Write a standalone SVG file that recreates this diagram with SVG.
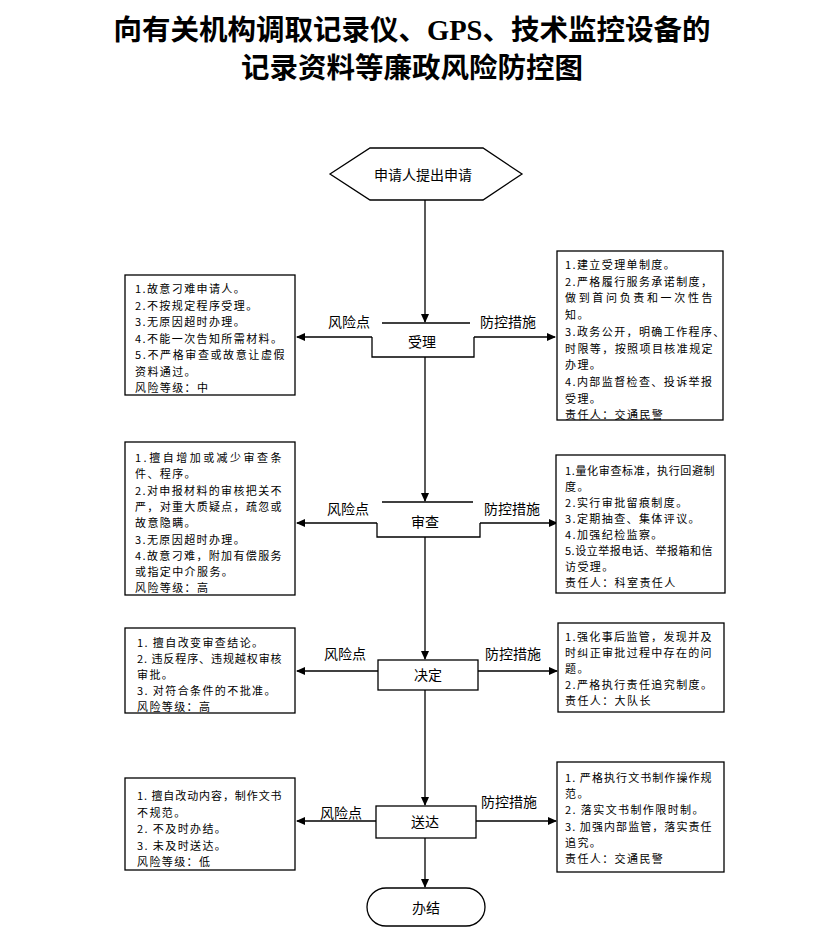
<svg xmlns="http://www.w3.org/2000/svg" width="823" height="941" viewBox="0 0 823 941">
<style>
.title{font-family:"Liberation Serif","Noto Sans CJK SC",serif;font-size:28.5px;font-weight:bold;fill:#000;text-anchor:middle}
.lbl{font-family:"Noto Sans CJK SC","Liberation Sans",sans-serif;font-size:14px;fill:#000;text-anchor:middle;dominant-baseline:central}
.bt{font-family:"Noto Sans CJK SC","Liberation Sans",sans-serif;font-size:11px;letter-spacing:1.4px;fill:#000;dominant-baseline:central}
.box{fill:#fff;stroke:#000;stroke-width:1.3}
.ln{fill:none;stroke:#000;stroke-width:1.3}
.arr{fill:none;stroke:#000;stroke-width:1.3;marker-end:url(#ah)}
</style>
<defs>
<marker id="ah" markerUnits="userSpaceOnUse" markerWidth="9" markerHeight="8" refX="8" refY="4" orient="auto">
<path d="M0,0 L9,4 L0,8 z" fill="#000"/>
</marker>
</defs>
<rect width="823" height="941" fill="#fff"/>
<g id="title">
<text class="title" x="412" y="40">向有关机构调取记录仪、GPS、技术监控设备的</text>
<text class="title" x="412" y="78">记录资料等廉政风险防控图</text>
</g>
<g id="connectors">
<path class="arr" d="M425,200 V322"/>
<path class="arr" d="M425,357 V501"/>
<path class="arr" d="M425,537 V659"/>
<path class="arr" d="M425,690 V805"/>
<path class="arr" d="M425,838 V887"/>
<path class="arr" d="M372,337 H297"/>
<path class="arr" d="M474,337 H555"/>
<path class="arr" d="M377,523 H297"/>
<path class="arr" d="M480,523 H557"/>
<path class="arr" d="M378,671 H297"/>
<path class="arr" d="M478,671 H557"/>
<path class="arr" d="M376,821 H297"/>
<path class="arr" d="M476,821 H556"/>
</g>
<g id="start">
<polygon class="box" points="330,174 370,148 483,148 522,174 483,200 370,200"/>
<text class="lbl" x="423" y="174">申请人提出申请</text>
</g>
<g id="shouli">
<path class="ln" d="M382,323 H470"/>
<path class="ln" d="M372,337 V357 H474 V337"/>
<text class="lbl" x="422" y="341">受理</text>
<text class="lbl" x="349" y="321">风险点</text>
<text class="lbl" x="508" y="321">防控措施</text>
</g>
<g id="risk1">
<rect class="box" x="125" y="275" width="170" height="120"/>
<text class="bt" x="135" y="288">1.故意刁难申请人。</text>
<text class="bt" x="135" y="304.5">2.不按规定程序受理。</text>
<text class="bt" x="135" y="321">3.无原因超时办理。</text>
<text class="bt" x="135" y="337.5">4.不能一次告知所需材料。</text>
<text class="bt" x="135" y="354" textLength="151">5.不严格审查或故意让虚假</text>
<text class="bt" x="135" y="370.5">资料通过。</text>
<text class="bt" x="135" y="387">风险等级：中</text>
</g>
<g id="ctrl1">
<rect class="box" x="557" y="251" width="166" height="169"/>
<text class="bt" x="565" y="264">1.建立受理单制度。</text>
<text class="bt" x="565" y="280.7">2.严格履行服务承诺制度，</text>
<text class="bt" x="565" y="297.4" textLength="149">做到首问负责和一次性告</text>
<text class="bt" x="565" y="314.1">知。</text>
<text class="bt" x="565" y="330.8">3.政务公开，明确工作程序、</text>
<text class="bt" x="565" y="347.5" textLength="149">时限等，按照项目核准规定</text>
<text class="bt" x="565" y="364.2">办理。</text>
<text class="bt" x="565" y="380.9">4.内部监督检查、投诉举报</text>
<text class="bt" x="565" y="397.6">受理。</text>
<text class="bt" x="565" y="414.3">责任人：交通民警</text>
</g>
<g id="shencha">
<path class="ln" d="M382,502 H473"/>
<path class="ln" d="M377,523 V537 H480 V523"/>
<text class="lbl" x="425" y="521">审查</text>
<text class="lbl" x="348" y="508">风险点</text>
<text class="lbl" x="512" y="508">防控措施</text>
</g>
<g id="risk2">
<rect class="box" x="125" y="442" width="170" height="153"/>
<text class="bt" x="135" y="457" textLength="148">1.擅自增加或减少审查条</text>
<text class="bt" x="135" y="473.3">件、程序。</text>
<text class="bt" x="135" y="489.6" textLength="148">2.对申报材料的审核把关不</text>
<text class="bt" x="135" y="505.9" textLength="148">严，对重大质疑点，疏忽或</text>
<text class="bt" x="135" y="522.2">故意隐瞒。</text>
<text class="bt" x="135" y="538.5">3.无原因超时办理。</text>
<text class="bt" x="135" y="554.8" textLength="148">4.故意刁难，附加有偿服务</text>
<text class="bt" x="135" y="571.1">或指定中介服务。</text>
<text class="bt" x="135" y="587.4">风险等级：高</text>
</g>
<g id="ctrl2">
<rect class="box" x="556" y="455" width="169" height="138"/>
<text class="bt" x="565" y="470" textLength="151">1.量化审查标准，执行回避制</text>
<text class="bt" x="565" y="486">度。</text>
<text class="bt" x="565" y="502">2.实行审批留痕制度。</text>
<text class="bt" x="565" y="518">3.定期抽查、集体评议。</text>
<text class="bt" x="565" y="534">4.加强纪检监察。</text>
<text class="bt" x="565" y="550" textLength="149">5.设立举报电话、举报箱和信</text>
<text class="bt" x="565" y="566">访受理。</text>
<text class="bt" x="565" y="582">责任人：科室责任人</text>
</g>
<g id="jueding">
<rect class="box" x="378" y="660" width="100" height="30"/>
<text class="lbl" x="428" y="674">决定</text>
<text class="lbl" x="345" y="653">风险点</text>
<text class="lbl" x="513" y="653">防控措施</text>
</g>
<g id="risk3">
<rect class="box" x="125" y="628" width="170" height="85"/>
<text class="bt" x="137" y="642">1. 擅自改变审查结论。</text>
<text class="bt" x="137" y="658" textLength="146">2. 违反程序、违规越权审核</text>
<text class="bt" x="137" y="674">审批。</text>
<text class="bt" x="137" y="690">3. 对符合条件的不批准。</text>
<text class="bt" x="137" y="706">风险等级：高</text>
</g>
<g id="ctrl3">
<rect class="box" x="558" y="623" width="166" height="89"/>
<text class="bt" x="565" y="636" textLength="148">1.强化事后监管，发现并及</text>
<text class="bt" x="565" y="652" textLength="148">时纠正审批过程中存在的问</text>
<text class="bt" x="565" y="668">题。</text>
<text class="bt" x="565" y="684">2.严格执行责任追究制度。</text>
<text class="bt" x="565" y="700">责任人：大队长</text>
</g>
<g id="songda">
<rect class="box" x="376" y="806" width="100" height="32"/>
<text class="lbl" x="425" y="821">送达</text>
<text class="lbl" x="341" y="812">风险点</text>
<text class="lbl" x="509" y="801">防控措施</text>
</g>
<g id="risk4">
<rect class="box" x="125" y="778" width="170" height="92"/>
<text class="bt" x="137" y="795" textLength="146">1. 擅自改动内容，制作文书</text>
<text class="bt" x="137" y="811.5">不规范。</text>
<text class="bt" x="137" y="828">2. 不及时办结。</text>
<text class="bt" x="137" y="844.5">3. 未及时送达。</text>
<text class="bt" x="137" y="861">风险等级：低</text>
</g>
<g id="ctrl4">
<rect class="box" x="557" y="762" width="167" height="110"/>
<text class="bt" x="565" y="777" textLength="148">1. 严格执行文书制作操作规</text>
<text class="bt" x="565" y="793.2">范。</text>
<text class="bt" x="565" y="809.4">2. 落实文书制作限时制。</text>
<text class="bt" x="565" y="825.6" textLength="148">3. 加强内部监管，落实责任</text>
<text class="bt" x="565" y="841.8">追究。</text>
<text class="bt" x="565" y="858">责任人：交通民警</text>
</g>
<g id="end">
<rect class="box" x="367" y="888" width="118" height="38" rx="19" ry="19"/>
<text class="lbl" x="426" y="907">办结</text>
</g>
</svg>
